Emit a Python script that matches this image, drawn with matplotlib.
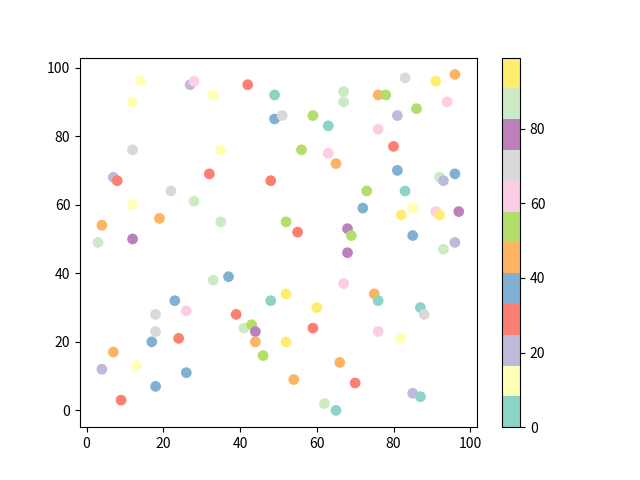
import numpy as np
import matplotlib
matplotlib.use("Agg")
import matplotlib.pyplot as plt

plt.rcParams['font.family'] = ['Noto Sans CJK SC', 'DejaVu Sans']

# x, y, colour given as Set3 bin index (0-11)
x = [14, 12, 27, 28, 33, 42, 49, 49, 51, 12, 35, 7, 8, 32, 48, 22, 12, 28, 4, 19,
     35, 3, 12, 59, 63, 67, 67, 76, 78, 83, 91, 96, 94, 86, 81, 76, 56, 63, 65, 80,
     81, 92, 93, 96, 83, 73, 72, 85, 82, 91, 92, 97, 52, 55, 68, 69, 85, 96, 93, 68,
     67, 75, 76, 60, 59, 52, 52, 76, 82, 87, 88, 66, 54, 70, 62, 65, 85, 87, 33, 37,
     23, 26, 18, 18, 17, 24, 48, 39, 41, 43, 44, 44, 46, 7, 4, 13, 26, 18, 9]
y = [96, 90, 95, 96, 92, 95, 92, 85, 86, 76, 76, 68, 67, 69, 67, 64, 60, 61, 54, 56,
     55, 49, 50, 86, 83, 93, 90, 92, 92, 97, 96, 98, 90, 88, 86, 82, 76, 75, 72, 77,
     70, 68, 67, 69, 64, 64, 59, 59, 57, 58, 57, 58, 55, 52, 53, 51, 51, 49, 47, 46,
     37, 34, 32, 30, 24, 34, 20, 23, 21, 30, 28, 14, 9, 8, 2, 0, 5, 4, 38, 39,
     32, 29, 28, 23, 20, 21, 32, 28, 24, 25, 23, 20, 16, 17, 12, 13, 11, 7, 3]
bins = [1, 1, 2, 7, 1, 3, 0, 4, 8, 8, 1, 2, 3, 3, 3, 8, 1, 10, 5, 5,
        10, 10, 9, 6, 0, 10, 10, 5, 6, 8, 11, 5, 7, 6, 2, 7, 6, 7, 5, 3,
        4, 10, 2, 4, 0, 6, 4, 1, 11, 7, 11, 9, 6, 3, 9, 6, 4, 2, 10, 9,
        7, 5, 0, 11, 3, 11, 11, 7, 1, 0, 8, 5, 5, 3, 10, 0, 2, 0, 10, 4,
        4, 7, 8, 8, 4, 3, 0, 3, 10, 6, 9, 5, 6, 5, 2, 1, 4, 4, 3]

vmax = 99
c = [(b + 0.5) * vmax / 12 for b in bins]

fig = plt.figure(figsize=(6.4, 4.8), dpi=100)
plt.scatter(x, y, c=c, cmap="Set3", vmin=0, vmax=vmax, s=45)
plt.colorbar()
plt.savefig("out.png")
